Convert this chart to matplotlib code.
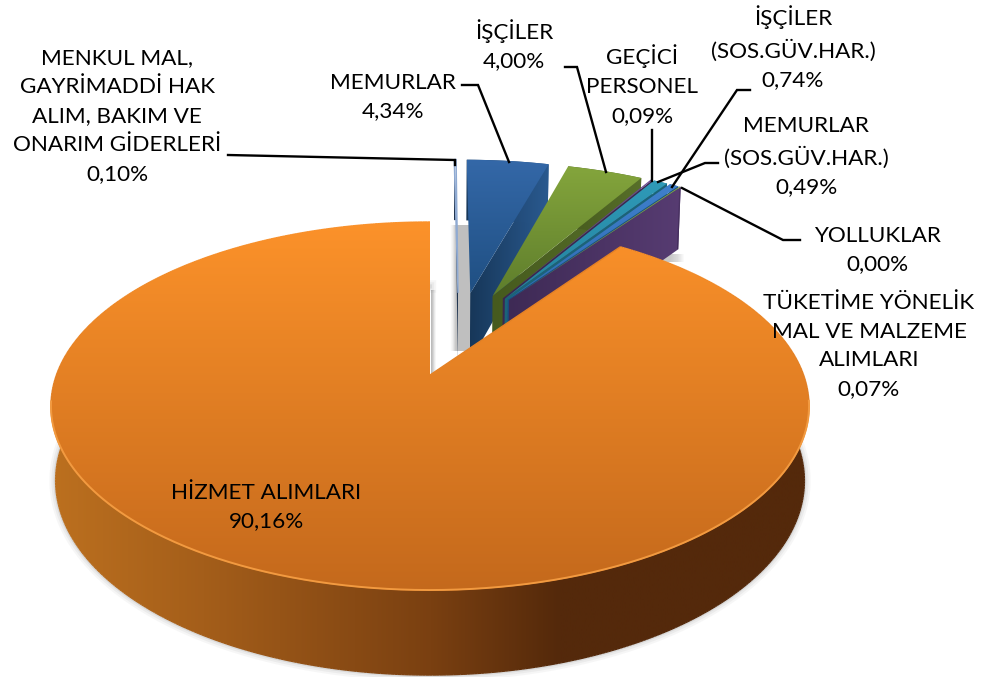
import matplotlib
matplotlib.use('Agg')
import matplotlib.pyplot as plt
import numpy as np
from matplotlib.collections import LineCollection
from matplotlib.colors import LinearSegmentedColormap as LSC
from matplotlib.patches import Polygon

plt.rcParams['font.family'] = ['Lato', 'DejaVu Sans']

# slices, clockwise from north
names = ['MENKUL MAL,\nGAYRİMADDİ HAK\nALIM, BAKIM VE\nONARIM GİDERLERİ', 'MEMURLAR', 'İŞÇİLER', 'GEÇİCİ\nPERSONEL',
         'İŞÇİLER\n(SOS.GÜV.HAR.)', 'MEMURLAR\n(SOS.GÜV.HAR.)', 'YOLLUKLAR',
         'TÜKETİME YÖNELİK\nMAL VE MALZEME\nALIMLARI', 'HİZMET ALIMLARI']
values = [0.10, 4.34, 4.00, 0.09, 0.74, 0.49, 0.00, 0.07, 90.16]

# colours: top face (upper, lower), wall (left, right)
top_hi = ['#F6F9FD', '#3468A8', '#84A53C', '#6A4A90', '#2F9AB8', '#3F80CC', '#8CA83F', '#8CA83F', '#FC922A']
top_lo = ['#F6F9FD', '#1F4F82', '#5E7D2C', '#5A3E7C', '#23819B', '#2F6AB0', '#7A9436', '#7A9436', '#C4691C']
wall_l = ['#1F3450', '#173759', '#465A1E', '#3A2850', '#1B6478', '#1C4A80', '#3E2A55', '#3E2A55', '#BC701F']
wall_r = ['#1F3450', '#2A5A90', '#58702A', '#3A2850', '#1B6478', '#1C4A80', '#573C72', '#573C72', '#54290B']

# label text centre (x, y of the block) and leader lines
label_pos = [(117, 116), (393, 97), (514, 45), (642, 85), (793, 48), (806, 157), (877, 250), (869, 346), (266, 507)]
leaders = [[(228, 155), (455, 160), (455, 165)],
           [(462, 85), (478, 85), (509, 162)],
           [(565, 67), (577, 67), (606, 172)],
           [(652, 130), (652, 181)],
           [(750, 90), (737, 90), (672, 187)],
           [(718, 163), (705, 163), (658, 182)],
           [(800, 240), (783, 240), (682, 188)]]

# projection of the pie plane to the picture
CX, CY, RX, RY, K, DEPTH, SHRINK = 430, 375, 373.6, 178.8, 0.1685, 74.3, 0.012
EXPLODE = 0.255
NUDGE = 0.003  # small slices sit a little further right
SMALL_R = 1.015


def project(u, v, z=0.0):
    w = 1 + K * v + SHRINK * z
    return CX + RX * u / w, CY + (-RY * v + DEPTH * z) / w


def gradient(ax, poly, cm, horizontal, z):
    poly = np.asarray(poly)
    x0, x1, y0, y1 = poly[:, 0].min(), poly[:, 0].max(), poly[:, 1].min(), poly[:, 1].max()
    g = np.linspace(0, 1, 256)
    g = g[None, :] if horizontal else g[:, None]
    im = ax.imshow(g, cmap=cm, extent=(x0, x1 + 1, y1 + 1, y0), aspect='auto', zorder=z, interpolation='bilinear')
    patch = Polygon(poly, closed=True, transform=ax.transData, fc='none', ec='none')
    ax.add_patch(patch)
    im.set_clip_path(patch)


def shadow(ax, alpha, box):
    rgba = np.zeros((1, len(alpha), 4))
    rgba[..., :3] = 0.3
    rgba[..., 3] = alpha
    ax.imshow(rgba, extent=box, aspect='auto', zorder=1, interpolation='bilinear')


fig = plt.figure(figsize=(9.84, 6.77), dpi=100)
ax = fig.add_axes([0, 0, 1, 1])

angles = np.cumsum([0] + values) / sum(values) * 2 * np.pi
mid = (angles[:-1] + angles[1:]) / 2
off_u = -EXPLODE * np.sin(mid[-1])
off_v = -EXPLODE * np.cos(mid[-1])

# soft shadows behind the slices
shadow(ax, [0, 0.1, 0.3, 0.36, 0.36, 0.36, 0.36, 0.36, 0.36], (449, 472, 351, 225))
shadow(ax, [0.38, 0.25, 0.1, 0], (431, 437, 374, 290))
shadow(ax, [0.3, 0.3, 0.2, 0], (660, 688, 262, 254))

z = 2
for i, val in enumerate(values):
    if val == 0:
        continue
    big = i == len(values) - 1
    cu = off_u + EXPLODE * np.sin(mid[i]) + (0 if big else NUDGE)
    cv = off_v + EXPLODE * np.cos(mid[i])
    t = np.linspace(angles[i], angles[i + 1], max(3, int(val * 8)))
    r = 1 if big else SMALL_R
    u = cu + r * np.sin(t)
    v = cv + r * np.cos(t)

    wall_cm = LSC.from_list('w', [wall_l[i], wall_r[i]])
    if big:
        wall_cm = LSC.from_list('w', [(0, '#BC701F'), (0.2, '#A45E1A'), (0.5, '#7A4011'), (0.67, '#54290B'), (1, '#54290B')])

    # cut wall at the end of the slice
    p0, p1 = project(cu, cv), project(u[-1], v[-1])
    q1, q0 = project(u[-1], v[-1], 1), project(cu, cv, 1)
    if not big:
        gradient(ax, [p0, p1, q1, q0], wall_cm, True, z)
        z += 1

    # outer rim
    fx, fy = project(u, v, 1)
    tx, ty = project(u, v)
    rim = np.r_[np.c_[tx, ty], np.c_[fx, fy][::-1]]
    if big:
        # grey halo round the foot of the big slice
        for lw, al in [(9, 0.05), (6, 0.07), (3, 0.12)]:
            ax.plot(fx, fy, color='#606060', lw=lw, alpha=al, zorder=z)
        z += 1
    gradient(ax, rim, wall_cm, True, z)
    z += 1
    if big:
        # smooth the clipped foot edge
        segs = np.stack([np.c_[fx[:-1], fy[:-1]], np.c_[fx[1:], fy[1:]]], axis=1)
        cols = wall_cm(np.clip((fx[:-1] - rim[:, 0].min()) / np.ptp(rim[:, 0]), 0, 1))
        ax.add_collection(LineCollection(segs, colors=cols, linewidths=1.0, zorder=z))
        z += 1

    # top face
    px, py = project(np.r_[cu, u], np.r_[cv, v])
    poly = np.c_[px, py]
    top_cm = LSC.from_list('t', [top_hi[i], top_lo[i]])
    gradient(ax, poly, top_cm, False, z)
    z += 1
    if i == 0:
        ax.add_patch(Polygon(poly, closed=True, fc='none', ec='#8FAAD2', lw=1.0, zorder=z))
    if big:
        segs = np.stack([poly[:-1], poly[1:]], axis=1)
        cols = top_cm(np.clip((py[:-1] - py.min()) / np.ptp(py), 0, 1))
        ax.add_collection(LineCollection(segs, colors=cols, linewidths=1.0, zorder=z))
        keep = py > 400
        ax.plot(px[keep], py[keep], color='#F29A40', lw=1.4, zorder=z)
    z += 1

for pts in leaders:
    p = np.array(pts)
    ax.plot(p[:, 0], p[:, 1], color='black', lw=1.7, zorder=z, solid_joinstyle='miter')
z += 1

for name, val, pos in zip(names, values, label_pos):
    txt = name + '\n' + f'{val:.2f}'.replace('.', ',') + '%'
    ax.text(pos[0], pos[1], txt, ha='center', va='center', fontsize=16.2, color='black', linespacing=1.55, zorder=z)

ax.set_xlim(0, 984)
ax.set_ylim(677, 0)
ax.axis('off')
fig.savefig('out.png', dpi=100)
